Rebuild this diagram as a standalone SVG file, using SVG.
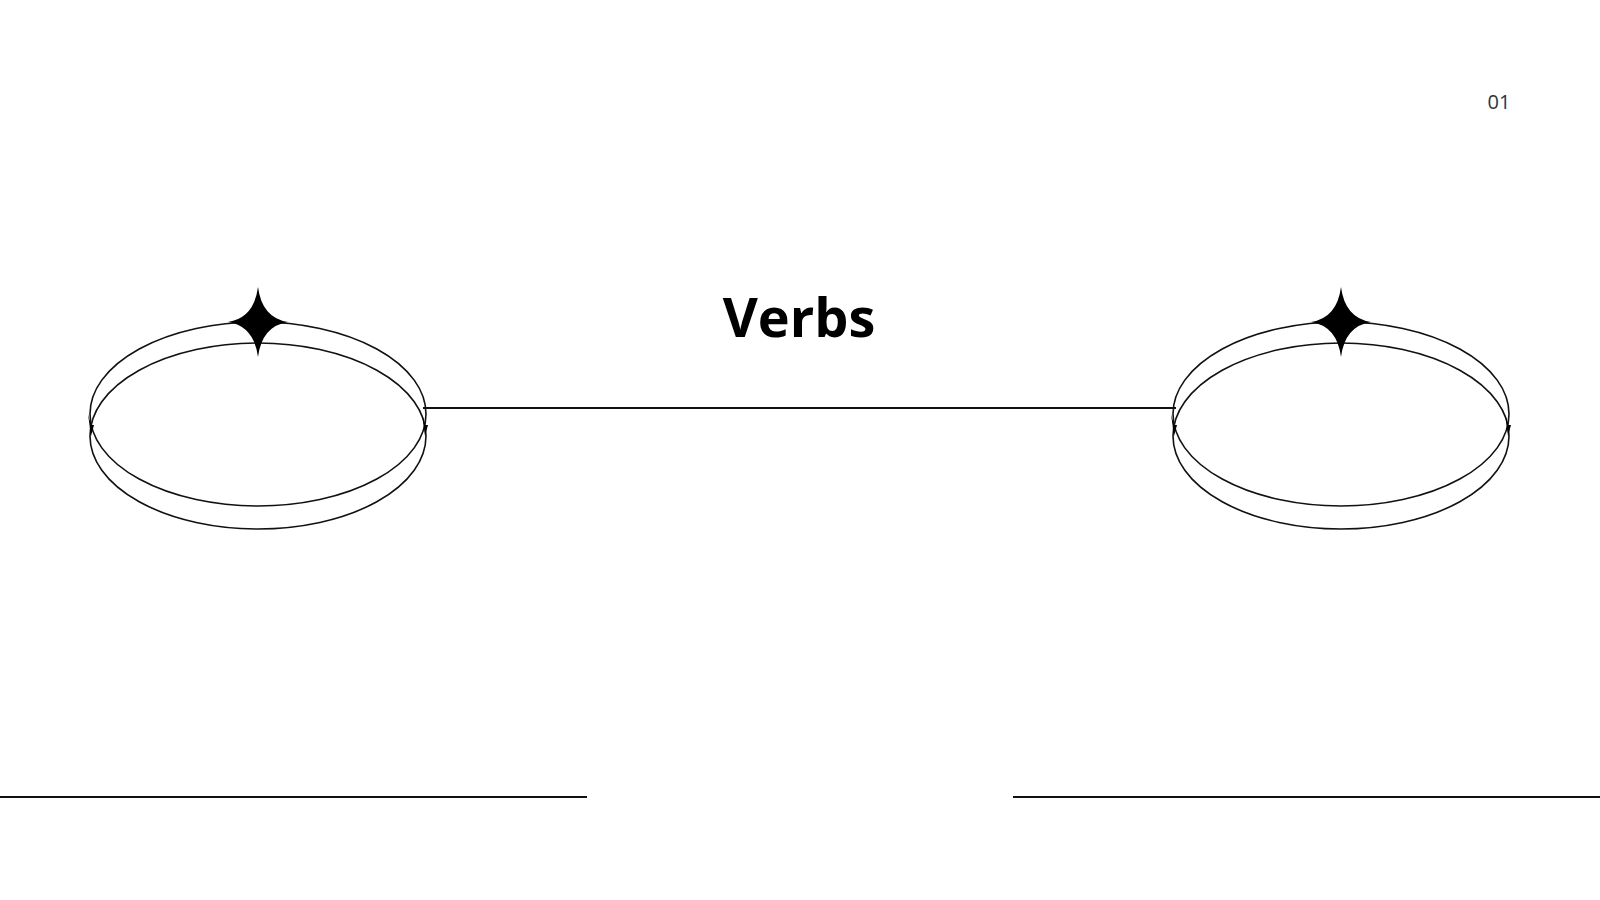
<svg xmlns="http://www.w3.org/2000/svg" width="1600" height="900" viewBox="0 0 1600 900">
<style>
.e{fill:none;stroke:#111;stroke-width:1.6}
.l{stroke:#111;stroke-width:1.8}
</style>
<defs>
<path id="star" d="M0,-35 Q4,-4 30,0 Q4,4 0,35 Q-4,4 -30,0 Q-4,-4 0,-35Z" fill="#000"/>
</defs>
<rect width="1600" height="900" fill="#fff"/>
<g id="connectors">
<line class="l" x1="423" y1="408" x2="1176" y2="408"/>
<line class="l" x1="0" y1="797" x2="587" y2="797"/>
<line class="l" x1="1013" y1="797" x2="1600" y2="797"/>
</g>
<g id="node-left">
<ellipse class="e" cx="258" cy="414" rx="168" ry="92"/>
<ellipse class="e" cx="258" cy="436" rx="168" ry="93"/>
<use href="#star" x="258" y="322"/>
<path d="M91,425 l-3,-11 l3,22 l3,-11 z M425,425 l-3,-11 l3,22 l3,-11 z" fill="#000"/>
</g>
<g id="node-right">
<ellipse class="e" cx="1341" cy="414" rx="168" ry="92"/>
<ellipse class="e" cx="1341" cy="436" rx="168" ry="93"/>
<use href="#star" x="1341" y="322"/>
<path d="M1174,425 l-3,-11 l3,22 l3,-11 z M1508,425 l-3,-11 l3,22 l3,-11 z" fill="#000"/>
</g>
<g id="title">
<text x="799" y="337" font-family="'Open Sans','Noto Sans',sans-serif" font-weight="700" font-size="54" text-anchor="middle" fill="#000">Verbs</text>
</g>
<g id="page">
<text x="1499" y="109" font-family="'Open Sans','Noto Sans',sans-serif" font-size="20" text-anchor="middle" fill="#333">01</text>
</g>
</svg>
